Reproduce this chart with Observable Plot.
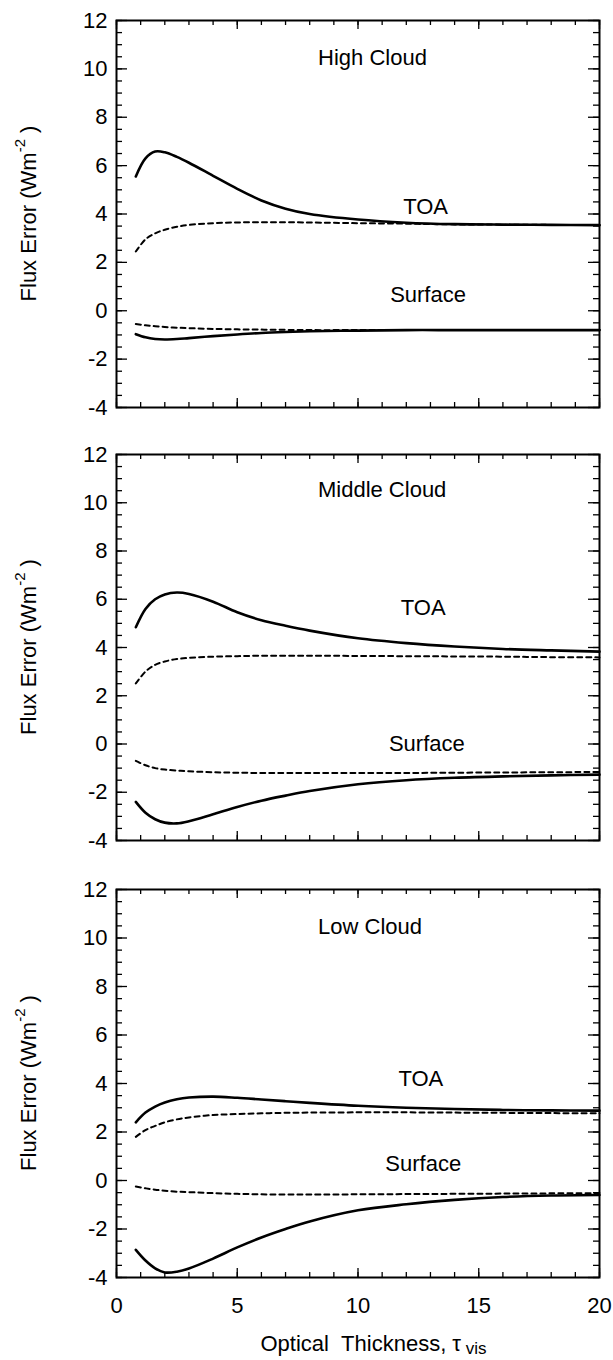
<!DOCTYPE html>
<html>
<head>
<meta charset="utf-8">
<script src="https://cdn.jsdelivr.net/npm/d3@7"></script>
<script src="https://cdn.jsdelivr.net/npm/@observablehq/plot@0.6"></script>
<style>
  html, body { margin: 0; padding: 0; background: #fff; }
  #chart svg { display: block; }
</style>
</head>
<body>
<div id="chart"></div>
<script>
// ---- data ----
const tau = [0.8, 1.2, 1.6, 2, 2.5, 3, 4, 5, 6, 7, 8, 10, 12, 14, 16, 18, 20];

const highToaSolid   = [5.55, 6.30, 6.58, 6.55, 6.36, 6.12, 5.58, 5.04, 4.56, 4.22, 4.00, 3.77, 3.64, 3.58, 3.56, 3.55, 3.54];
const highToaDashed  = [2.45, 2.95, 3.20, 3.35, 3.47, 3.55, 3.62, 3.65, 3.66, 3.66, 3.65, 3.62, 3.60, 3.57, 3.56, 3.55, 3.54];
const highSfcSolid   = [-0.97, -1.10, -1.17, -1.19, -1.17, -1.13, -1.05, -0.98, -0.92, -0.88, -0.85, -0.82, -0.80, -0.80, -0.80, -0.80, -0.80];
const highSfcDashed  = [-0.55, -0.60, -0.64, -0.67, -0.70, -0.72, -0.75, -0.77, -0.78, -0.79, -0.80, -0.80, -0.80, -0.80, -0.80, -0.80, -0.80];

const midToaSolid    = [4.84, 5.60, 6.00, 6.20, 6.28, 6.22, 5.90, 5.46, 5.13, 4.90, 4.70, 4.38, 4.18, 4.04, 3.94, 3.88, 3.83];
const midToaDashed   = [2.51, 3.00, 3.28, 3.42, 3.52, 3.57, 3.62, 3.64, 3.66, 3.66, 3.66, 3.65, 3.64, 3.63, 3.62, 3.60, 3.59];
const midSfcSolid    = [-2.40, -2.85, -3.12, -3.26, -3.29, -3.20, -2.91, -2.61, -2.35, -2.14, -1.95, -1.67, -1.50, -1.40, -1.34, -1.30, -1.27];
const midSfcDashed   = [-0.70, -0.88, -1.00, -1.06, -1.10, -1.13, -1.17, -1.19, -1.20, -1.20, -1.20, -1.20, -1.20, -1.19, -1.18, -1.17, -1.16];

const lowToaSolid    = [2.40, 2.80, 3.05, 3.22, 3.35, 3.42, 3.46, 3.41, 3.34, 3.27, 3.20, 3.08, 3.00, 2.95, 2.91, 2.89, 2.88];
const lowToaDashed   = [1.80, 2.08, 2.25, 2.40, 2.52, 2.60, 2.70, 2.74, 2.77, 2.79, 2.80, 2.81, 2.81, 2.80, 2.79, 2.78, 2.77];
const lowSfcSolid    = [-2.86, -3.30, -3.62, -3.79, -3.76, -3.63, -3.22, -2.76, -2.35, -2.00, -1.69, -1.23, -0.98, -0.80, -0.68, -0.62, -0.60];
const lowSfcDashed   = [-0.25, -0.32, -0.38, -0.42, -0.46, -0.48, -0.52, -0.55, -0.57, -0.58, -0.58, -0.57, -0.56, -0.55, -0.54, -0.53, -0.52];

const panelTitles = ["High Cloud", "Middle Cloud", "Low Cloud"];
const xTickLabels = [0, 5, 10, 15, 20];
const yTickLabels = [-4, -2, 0, 2, 4, 6, 8, 10, 12];
const xMinorTicks = d3.range(0, 21, 1);
const yMinorTicks = d3.range(-4, 12.01, 0.5);

// annotation anchors in data units: [panel title, TOA, Surface]
const titleAnchors   = [[10.6, 10.45], [11.0, 10.55], [10.5, 10.45]];
const toaAnchors     = [[12.8, 4.28], [12.7, 5.63], [12.6, 4.18]];
const surfaceAnchors = [[12.9, 0.66], [12.85, 0.02], [12.7, 0.67]];

// ---- build ----
const panels = [
  {solid: [["TOA", highToaSolid], ["Surface", highSfcSolid]], dashed: [["TOA", highToaDashed], ["Surface", highSfcDashed]]},
  {solid: [["TOA", midToaSolid], ["Surface", midSfcSolid]],   dashed: [["TOA", midToaDashed], ["Surface", midSfcDashed]]},
  {solid: [["TOA", lowToaSolid], ["Surface", lowSfcSolid]],   dashed: [["TOA", lowToaDashed], ["Surface", lowSfcDashed]]}
];

const toRows = (list) => list.flatMap(([name, vals]) => vals.map((v, i) => ({series: name, tau: tau[i], value: v})));

const W = 613;
const mLeft = 116, mRight = 14;
const layouts = [
  {top: 20, h: 387, bottom: 24},
  {top: 23, h: 386, bottom: 26},
  {top: 23, h: 388, bottom: 83}
];
const FONT = "'Liberation Sans', Arial, Helvetica, sans-serif";
const FS = 22;
const pw = W - mLeft - mRight;

const container = document.getElementById("chart");

panels.forEach((p, k) => {
  const L = layouts[k];
  const isLast = k === panels.length - 1;
  const labels = [
    {x: titleAnchors[k][0], y: titleAnchors[k][1], text: panelTitles[k]},
    {x: toaAnchors[k][0], y: toaAnchors[k][1], text: "TOA"},
    {x: surfaceAnchors[k][0], y: surfaceAnchors[k][1], text: "Surface"}
  ];
  const marks = [
    // inward minor/major ticks on all four sides
    Plot.ruleX(xMinorTicks, {insetTop: L.h - 5, strokeWidth: 1.3}),
    Plot.ruleX(xTickLabels, {insetTop: L.h - 9, strokeWidth: 1.3}),
    Plot.ruleX(xMinorTicks, {insetBottom: L.h - 5, strokeWidth: 1.3}),
    Plot.ruleX(xTickLabels, {insetBottom: L.h - 9, strokeWidth: 1.3}),
    Plot.ruleY(yMinorTicks, {insetRight: pw - 6, strokeWidth: 1.3}),
    Plot.ruleY(yTickLabels, {insetRight: pw - 11, strokeWidth: 1.3}),
    Plot.ruleY(yMinorTicks, {insetLeft: pw - 6, strokeWidth: 1.3}),
    Plot.ruleY(yTickLabels, {insetLeft: pw - 11, strokeWidth: 1.3}),
    Plot.frame({strokeWidth: 2}),
    Plot.axisY(yTickLabels, {tickSize: 0, tickPadding: 9, label: null, tickFormat: d => String(d), fontSize: FS}),
    Plot.line(toRows(p.solid), {x: "tau", y: "value", z: "series", curve: "catmull-rom", strokeWidth: 2.6}),
    Plot.line(toRows(p.dashed), {x: "tau", y: "value", z: "series", curve: "catmull-rom", strokeWidth: 2, strokeDasharray: "5,4"}),
    Plot.text(labels, {x: "x", y: "y", text: "text", fontSize: FS, textAnchor: "middle"})
  ];
  if (isLast) {
    marks.push(Plot.axisX(xTickLabels, {tickSize: 0, tickPadding: 20, label: null, tickFormat: d => String(d), fontSize: FS}));
  }
  const chart = Plot.plot({
    width: W,
    height: L.top + L.h + L.bottom,
    marginLeft: mLeft,
    marginRight: mRight,
    marginTop: L.top,
    marginBottom: L.bottom,
    x: {domain: [0, 20], axis: isLast ? undefined : null},
    y: {domain: [-4, 12]},
    style: {fontFamily: FONT, fontSize: FS + "px", background: "white", color: "black", overflow: "visible"},
    marks
  });
  container.appendChild(chart);

  const svg = d3.select(chart);
  // y-axis title with superscript
  const cy = L.top + L.h / 2;
  const yt = svg.append("text")
    .attr("transform", `translate(36,${cy}) rotate(-90)`)
    .attr("text-anchor", "middle")
    .attr("font-family", FONT)
    .attr("font-size", FS)
    .attr("fill", "black");
  yt.append("tspan").text("Flux Error (Wm");
  yt.append("tspan").attr("font-size", 15).attr("dy", -11).text("-2");
  yt.append("tspan").attr("dy", 11).text("\u00a0)");

  if (isLast) {
    const by = L.top + L.h + 74;
    const xt = svg.append("text")
      .attr("x", mLeft + pw / 2 + 16)
      .attr("y", by)
      .attr("text-anchor", "middle")
      .attr("font-family", FONT)
      .attr("font-size", FS)
      .attr("fill", "black");
    xt.append("tspan").text("Optical\u00a0\u00a0Thickness,\u00a0\u03c4");
    xt.append("tspan").attr("font-size", 17).attr("dy", 3).text("\u00a0vis");
  }
});
</script>
</body>
</html>
